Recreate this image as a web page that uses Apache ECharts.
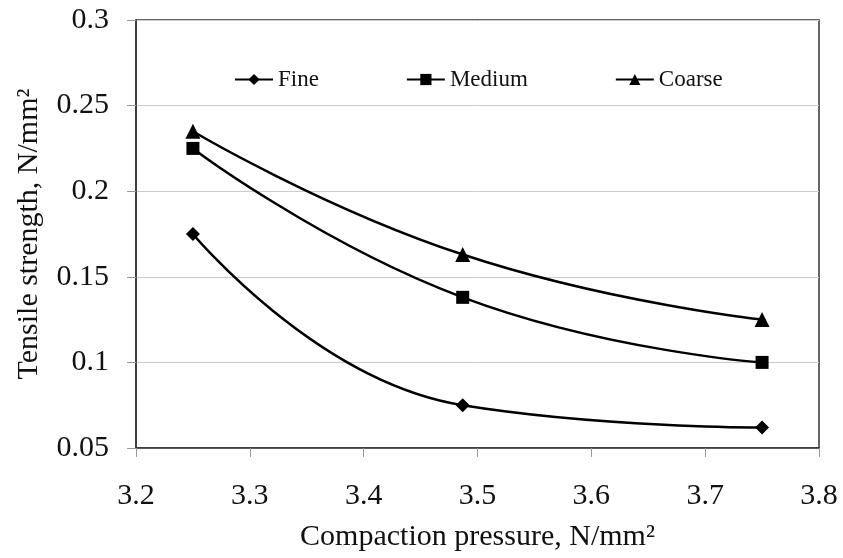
<!DOCTYPE html>
<html>
<head>
<meta charset="utf-8">
<script src="https://cdn.jsdelivr.net/npm/echarts@6/dist/echarts.min.js"></script>
<style>
    html, body {margin: 0; padding: 0; background: #fff;}
    #main {width: 843px; height: 558px;}
</style>
</head>
<body>
<div id="main"></div>
<script>
// data
var pressure = [3.25, 3.487, 3.75];
var fineData = [0.175, 0.075, 0.062];
var mediumData = [0.225, 0.138, 0.100];
var coarseData = [0.235, 0.163, 0.125];
var seriesNames = ['Fine', 'Medium', 'Coarse'];
var seriesSymbols = ['diamond', 'rect', 'triangle'];

function pairs(xs, ys){
    return xs.map(function (x, i) { return [x, ys[i]]; });
}

var chart = echarts.init(document.getElementById('main'));

var serif = 'Liberation Serif';

option = {
    animation: false,
    grid: {
        left: 136,
        right: 24,
        top: 20,
        bottom: 110,
        show: true,
        borderColor: '#333',
        borderWidth: 1.5
    },
    legend: {
        left: 229,
        top: 63,
        itemGap: 87,
        itemWidth: 38,
        itemHeight: 14,
        textStyle: {fontFamily: serif, fontSize: 23, color: '#111'},
        data: seriesNames
    },
    xAxis: {
        type: 'value',
        min: 3.2,
        max: 3.8,
        interval: 0.1,
        name: 'Compaction pressure, N/mm²',
        nameLocation: 'middle',
        nameGap: 74,
        nameTextStyle: {fontFamily: serif, fontSize: 30, color: '#111'},
        axisLine: {show: true, lineStyle: {color: '#333', width: 1.5}},
        axisTick: {show: true, length: 9, lineStyle: {color: '#999'}},
        axisLabel: {
            fontFamily: serif, fontSize: 30, color: '#111', margin: 33,
            formatter: function (v) { return v.toFixed(1); }
        },
        splitLine: {show: false}
    },
    yAxis: {
        type: 'value',
        min: 0.05,
        max: 0.3,
        interval: 0.05,
        name: 'Tensile strength, N/mm²',
        nameLocation: 'middle',
        nameGap: 92,
        nameTextStyle: {fontFamily: serif, fontSize: 30, color: '#111'},
        axisLine: {show: true, lineStyle: {color: '#333', width: 1.5}},
        axisTick: {show: true, length: 9, lineStyle: {color: '#999'}},
        axisLabel: {
            fontFamily: serif, fontSize: 30, color: '#111', margin: 27,
            formatter: function (v) { return parseFloat(v.toFixed(2)).toString(); }
        },
        splitLine: {show: true, lineStyle: {color: '#ccc', width: 1}}
    },
    series: [
        {
            name: seriesNames[0],
            type: 'line',
            data: pairs(pressure, fineData),
            smooth: 0.5,
            symbol: seriesSymbols[0],
            symbolSize: 14,
            itemStyle: {color: '#000'},
            lineStyle: {color: '#000', width: 2.5}
        },
        {
            name: seriesNames[1],
            type: 'line',
            data: pairs(pressure, mediumData),
            smooth: 0.5,
            symbol: seriesSymbols[1],
            symbolSize: 13,
            itemStyle: {color: '#000'},
            lineStyle: {color: '#000', width: 2.5}
        },
        {
            name: seriesNames[2],
            type: 'line',
            data: pairs(pressure, coarseData),
            smooth: 0.5,
            symbol: seriesSymbols[2],
            symbolSize: 15,
            itemStyle: {color: '#000'},
            lineStyle: {color: '#000', width: 2.5}
        }
    ]
};

chart.setOption(option);
</script>
</body>
</html>
